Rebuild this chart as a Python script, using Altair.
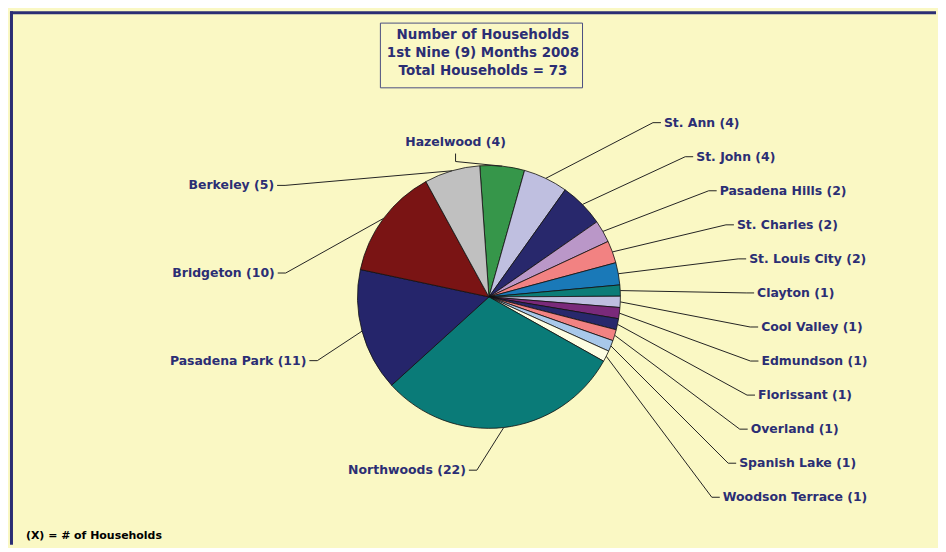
import altair as alt
import pandas as pd

# ---- data ----
names = ["Hazelwood", "St. Ann", "St. John", "Pasadena Hills", "St. Charles",
         "St. Louis City", "Clayton", "Cool Valley", "Edmundson", "Florissant",
         "Overland", "Spanish Lake", "Woodson Terrace", "Northwoods",
         "Pasadena Park", "Bridgeton", "Berkeley"]
households = [4, 4, 4, 2, 2, 2, 1, 1, 1, 1, 1, 1, 1, 22, 11, 10, 5]
colors = ["#36964A", "#BFBFE0", "#28286C", "#BA97C8", "#F28282",
          "#1A79B8", "#0C7C77", "#BFBFE0", "#7A2A7A", "#28286C",
          "#F28282", "#A8C8EA", "#FDFDE2", "#0A7B78",
          "#25256B", "#7A1414", "#C0C0C0"]
title_lines = ["Number of Households", "1st Nine (9) Months 2008",
               "Total Households = 73"]
footnote = "(X) = # of Households"

df = pd.DataFrame({"name": names, "v": households, "idx": list(range(len(names)))})
one = pd.DataFrame({"k": [0]})

# ---- layout ----
W, H = 930, 536
CX, CY, R = 481, 287, 132
OFF = -4  # degrees
BG = "#FAF8C4"
NAVY = "#2B2E74"
FONT = "DejaVu Sans"
PI = 3.141592653589793

xs = alt.Scale(domain=[0, W], range=[0, W])
ys = alt.Scale(domain=[0, H], range=[0, H])

base = alt.Chart(df).transform_joinaggregate(
    total="sum(v)"
).transform_window(
    cum="sum(v)", sort=[alt.SortField("idx")], frame=[None, 0]
).transform_calculate(
    mid_deg=f"(datum.cum - datum.v/2)/datum.total*360 + ({OFF})"
).transform_calculate(
    mid="datum.mid_deg*PI/180",
    side="datum.mid_deg < 15 ? 'top' : datum.mid_deg < 160 ? 'right' : datum.mid_deg < 200 ? 'bottom' : 'left'",
    label="datum.name + ' (' + datum.v + ')'"
).transform_calculate(
    ax=f"{CX} + {R}*sin(datum.mid)",
    ay=f"{CY} - {R}*cos(datum.mid)",
    skey="datum.side == 'left' ? -datum.idx : datum.idx"
).transform_window(
    rk="row_number()", groupby=["side"], sort=[alt.SortField("skey")]
).transform_calculate(
    ly="datum.side == 'right' ? 112 + 34.2*(datum.rk-1) : datum.side == 'left' ? 175 + 88*(datum.rk-1) : datum.side == 'top' ? 131 : 461"
).transform_calculate(
    lx="datum.side == 'right' ? 484 + 271*sqrt(max(0, 1 - pow((datum.ly-337)/292, 2))) : "
       "datum.side == 'left' ? 481 - 219*sqrt(max(0, 1 - pow((datum.ly-217)/245, 2))) : "
       "datum.side == 'top' ? datum.ax - 47 : datum.ax - 38"
).transform_calculate(
    sx="datum.side == 'right' ? datum.lx - 3 : datum.side == 'top' ? datum.lx : datum.lx + 3",
    sy="datum.side == 'top' ? datum.ly + 12 : datum.ly",
    ex="datum.side == 'right' ? datum.lx - 11 : datum.side == 'top' ? datum.lx : datum.lx + 11",
    ey="datum.side == 'top' ? datum.ly + 20 : datum.ly"
)

pie = alt.Chart(df).mark_arc(radius=R, stroke="#111111", strokeWidth=0.8).encode(
    theta=alt.Theta("v:Q", stack=True,
                    scale=alt.Scale(range=[OFF * PI / 180, OFF * PI / 180 + 2 * PI])),
    color=alt.Color("name:N", scale=alt.Scale(domain=names, range=colors), legend=None),
    order=alt.Order("idx:Q"),
    x=alt.value(CX),
    y=alt.value(CY),
)

stub = base.mark_rule(color="#222222", strokeWidth=1).encode(
    x=alt.X("sx:Q", scale=xs, axis=None), y=alt.Y("sy:Q", scale=ys, axis=None),
    x2="ex:Q", y2="ey:Q")
diag = base.mark_rule(color="#222222", strokeWidth=1).encode(
    x=alt.X("ex:Q", scale=xs, axis=None), y=alt.Y("ey:Q", scale=ys, axis=None),
    x2="ax:Q", y2="ay:Q")

def labels(sides, align):
    return base.transform_filter(
        alt.FieldOneOfPredicate(field="side", oneOf=sides)
    ).mark_text(align=align, baseline="middle", font=FONT, fontWeight="bold",
                fontSize=12.5, color=NAVY).encode(
        x=alt.X("lx:Q", scale=xs, axis=None), y=alt.Y("ly:Q", scale=ys, axis=None),
        text="label:N")

lab_r = labels(["right"], "left")
lab_l = labels(["left", "bottom"], "right")
lab_t = labels(["top"], "center")

title_box = alt.Chart(one).mark_rect(fill=BG, stroke="#4A4E80", strokeWidth=1).encode(
    x=alt.value(372), x2=alt.value(575), y=alt.value(12), y2=alt.value(77))
title_txt = alt.Chart(one).mark_text(
    text=title_lines, align="center", baseline="top", font=FONT, fontWeight="bold",
    fontSize=13.5, color=NAVY, lineHeight=18).encode(x=alt.value(475), y=alt.value(17))
foot = alt.Chart(one).mark_text(
    text=footnote, align="left", baseline="middle", font=FONT, fontWeight="bold",
    fontSize=11, color="#000000").encode(x=alt.value(16), y=alt.value(527))
border_top = alt.Chart(one).mark_rule(color="#2B2E74", strokeWidth=3).encode(
    x=alt.value(0), x2=alt.value(W), y=alt.value(1.5), y2=alt.value(1.5))
border_left = alt.Chart(one).mark_rule(color="#2B2E74", strokeWidth=3).encode(
    x=alt.value(1.5), x2=alt.value(1.5), y=alt.value(0), y2=alt.value(H))

chart = alt.layer(
    pie, diag, stub, lab_r, lab_l, lab_t, title_box, title_txt, foot,
    border_top, border_left
).properties(
    width=W, height=H, padding=0, background=BG
).configure_view(stroke=None)

chart.save("out.html", embed_options={"renderer": "svg", "actions": False})
